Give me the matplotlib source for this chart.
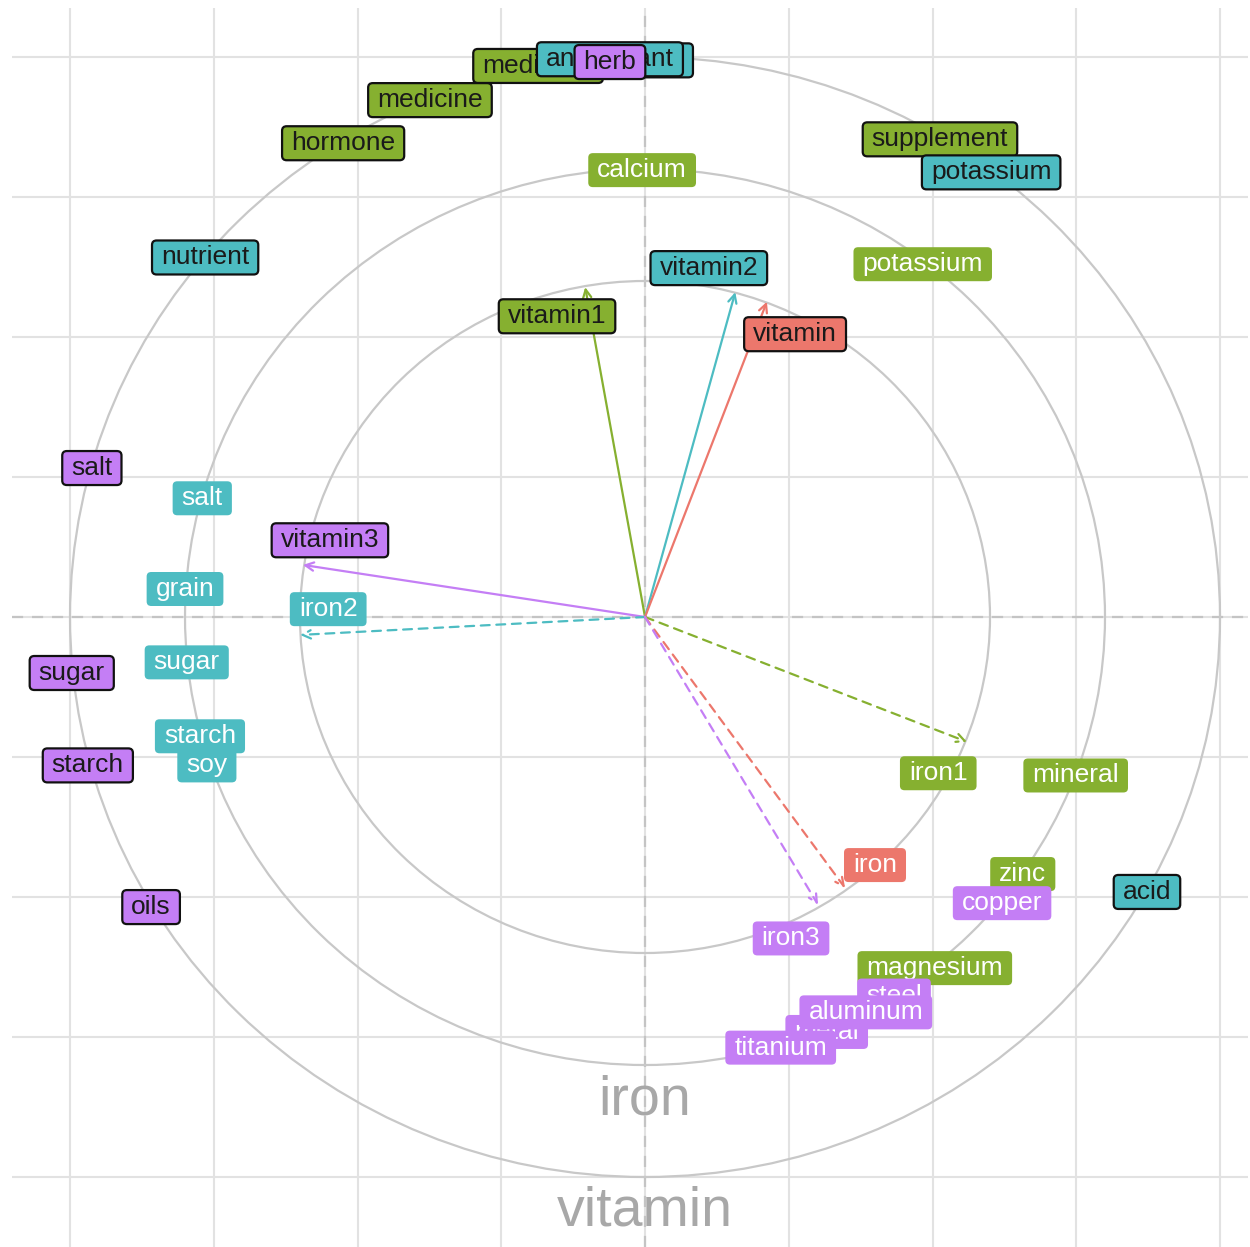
import matplotlib
matplotlib.use("Agg")
import matplotlib.pyplot as plt
from matplotlib.patches import Circle, FancyBboxPatch
import numpy as np

plt.rcParams['font.family'] = ['Liberation Sans', 'DejaVu Sans']

# ---------------- data ----------------
group_colors = {"red": "#EC776C", "green": "#86B030", "cyan": "#4DBCC2", "purple": "#C47EF5"}

arrow_names = ["vitamin1", "vitamin2", "vitamin", "vitamin3", "iron2", "iron1", "iron", "iron3"]
arrow_x = [-0.104, 0.157, 0.212, -0.595, -0.600, 0.560, 0.348, 0.301]
arrow_y = [0.589, 0.580, 0.563, 0.093, -0.032, -0.223, -0.484, -0.514]
arrow_group = ["green", "cyan", "red", "purple", "cyan", "green", "red", "purple"]
arrow_dashed = [False, False, False, False, True, True, True, True]

circle_radii = [0.6, 0.8, 1.0]

label_text = ["medicinal", "nutrient", "antioxidant", "herb", "medicine", "hormone",
              "supplement", "potassium", "calcium", "nutrient", "vitamin2", "potassium",
              "vitamin1", "vitamin", "salt", "salt", "vitamin3", "grain", "iron2",
              "sugar", "sugar", "soy", "starch", "starch", "oils", "iron1", "mineral",
              "iron", "zinc", "copper", "acid", "iron3", "magnesium", "steel", "metal",
              "aluminum", "titanium"]
label_x = [-0.186, -0.009, -0.061, -0.061, -0.374, -0.525,
           0.513, 0.602, -0.005, -0.765, 0.111, 0.483,
           -0.153, 0.261, -0.962, -0.770, -0.548, -0.800, -0.551,
           -0.997, -0.797, -0.762, -0.774, -0.969, -0.859, 0.510, 0.749,
           0.400, 0.657, 0.621, 0.873, 0.254, 0.504, 0.433, 0.316,
           0.384, 0.236]
label_y = [0.984, 0.994, 0.996, 0.991, 0.923, 0.846,
           0.853, 0.794, 0.798, 0.642, 0.623, 0.630,
           0.537, 0.505, 0.266, 0.212, 0.137, 0.050, 0.014,
           -0.100, -0.081, -0.265, -0.213, -0.265, -0.518, -0.279, -0.283,
           -0.443, -0.459, -0.511, -0.491, -0.574, -0.627, -0.676, -0.741,
           -0.706, -0.769]
label_group = ["green", "cyan", "cyan", "purple", "green", "green",
               "green", "cyan", "green", "cyan", "cyan", "green",
               "green", "red", "purple", "cyan", "purple", "cyan", "cyan",
               "purple", "cyan", "cyan", "cyan", "purple", "purple", "green", "green",
               "red", "green", "purple", "cyan", "purple", "green", "purple", "purple",
               "purple", "purple"]
label_bordered = [True, True, True, True, True, True,
                  True, True, False, True, True, False,
                  True, True, True, False, True, False, False,
                  True, False, False, False, True, True, False, False,
                  False, False, False, True, False, False, False, False,
                  False, False]

axis_titles = ["iron", "vitamin"]
axis_title_y = [-0.864, -1.061]

# ---------------- figure ----------------
W, H, DPI = 1250, 1247, 100
fig = plt.figure(figsize=(W / DPI, H / DPI), dpi=DPI)
ax = fig.add_axes([12 / W, 0, 1236 / W, 1239 / H])
ax.set_xlim(-1.1009, 1.0487)
ax.set_ylim(-1.125, 1.0875)
for s in ax.spines.values():
    s.set_visible(False)
ticks = np.arange(-1.0, 1.01, 0.25)
ax.set_xticks(ticks)
ax.set_yticks(ticks)
ax.tick_params(length=0, labelbottom=False, labelleft=False)
ax.grid(True, color="#E2E2E2", lw=1.5)
ax.set_axisbelow(True)

ax.axhline(0, color="#C4C4C4", lw=1.6, ls=(0, (5, 4)), zorder=1)
ax.axvline(0, color="#C4C4C4", lw=1.6, ls=(0, (5, 4)), zorder=1)

for r in circle_radii:
    ax.add_patch(Circle((0, 0), r, fill=False, ec="#C8C8C8", lw=1.6, zorder=1.5))

for x, y, g, d in zip(arrow_x, arrow_y, arrow_group, arrow_dashed):
    ax.annotate("", xy=(x, y), xytext=(0, 0),
                arrowprops=dict(arrowstyle="->", color=group_colors[g], lw=1.6,
                                linestyle=(0, (4, 3)) if d else "-",
                                mutation_scale=15, shrinkA=0, shrinkB=0),
                zorder=2)

for t, y in zip(axis_titles, axis_title_y):
    ax.text(0, y, t, ha="center", va="center", fontsize=40, color="#A8A8A8", zorder=1.8)

# labels
fig.canvas.draw()
renderer = fig.canvas.get_renderer()
inv = ax.transData.inverted()
box_h = 34
pad_x = 9
z = 3
for t, x, y, g, b in zip(label_text, label_x, label_y, label_group, label_bordered):
    txt = ax.text(x, y, t, ha="center", va="center", fontsize=19,
                  color="#1A1A1A" if b else "#FFFFFF", zorder=z + 0.5)
    bb = txt.get_window_extent(renderer)
    cx, cy = ax.transData.transform((x, y))
    w = bb.width + 2 * pad_x
    (x0, y0) = inv.transform((cx - w / 2, cy - box_h / 2))
    (x1, y1) = inv.transform((cx + w / 2, cy + box_h / 2))
    patch = FancyBboxPatch((x0, y0), x1 - x0, y1 - y0,
                           boxstyle="round,pad=0,rounding_size=0.008",
                           fc=group_colors[g], ec="#111111" if b else "none",
                           lw=1.6 if b else 0, zorder=z, mutation_aspect=1)
    ax.add_patch(patch)
    z += 1

fig.savefig("out.png", dpi=DPI, facecolor="white")
